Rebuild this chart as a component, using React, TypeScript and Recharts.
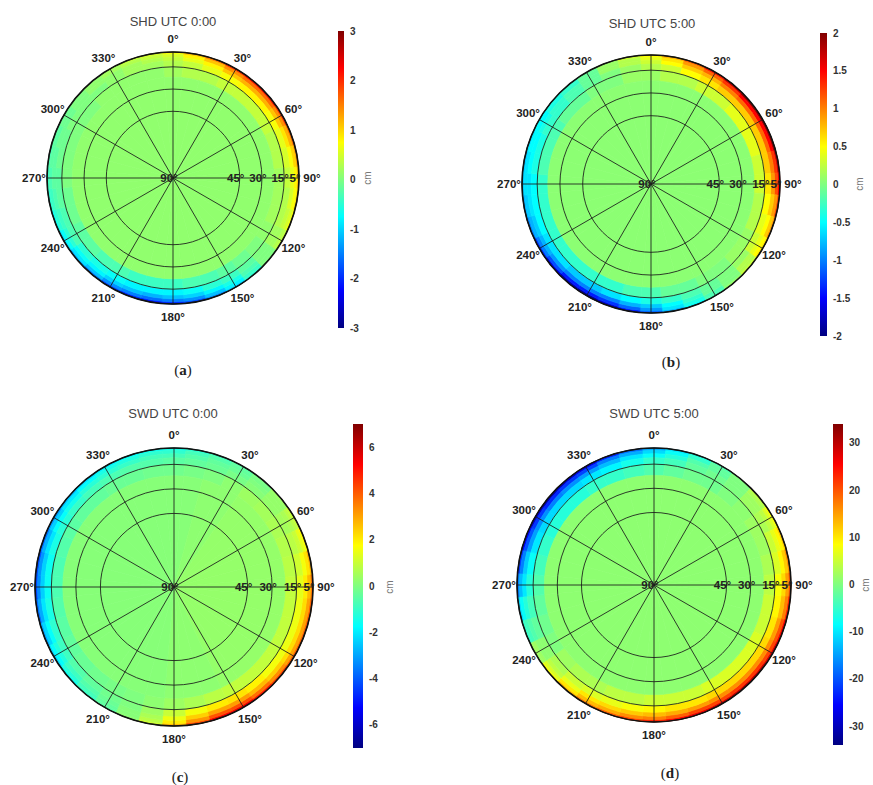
import {
  Bar,
  BarChart,
  Cell,
  Pie,
  PieChart,
  PolarAngleAxis,
  PolarGrid,
  PolarRadiusAxis,
  RadarChart,
  XAxis,
  YAxis,
} from "recharts";

// azimuth bins (10° wide, centred on the value), clockwise from north
const AZIMUTHS = [
  0, 10, 20, 30, 40, 50, 60, 70, 80, 90, 100, 110, 120, 130, 140, 150, 160, 170,
  180, 190, 200, 210, 220, 230, 240, 250, 260, 270, 280, 290, 300, 310, 320, 330, 340, 350,
];
// elevation ring edges, from the 5° cut-off inwards to the zenith
const ELEVATION_EDGES = [5, 6.5, 8.5, 11, 15, 22, 90];
const ANGLE_LABELS = ["0°", "30°", "60°", "90°", "120°", "150°", "180°", "210°", "240°", "270°", "300°", "330°"];
// zenith distance of the grid circles (90° - elevation): 90°, 45°, 30°, 15°, 5°
const ZENITH_TICKS = [0, 45, 60, 75, 85];

// one row per elevation ring (5-6.5°, 6.5-8.5°, 8.5-11°, 11-15°, 15-22°, 22-90°), values in cm
const SHD_0_RINGS = [
  [0.7, 1.1, 1.5, 1.9, 2.1, 2.1, 1.9, 1.6, 1.3, 1.1, 0.9, 0.7, 0.4, 0.0, -0.5, -1.0, -1.4, -1.8, -2.0, -2.1, -2.0, -1.8, -1.5, -1.2, -0.9, -0.7, -0.5, -0.4, -0.3, -0.2, -0.1, 0.0, 0.1, 0.2, 0.4, 0.5],
  [0.5, 0.8, 1.1, 1.4, 1.6, 1.6, 1.4, 1.2, 1.0, 0.8, 0.7, 0.5, 0.3, 0.0, -0.4, -0.8, -1.1, -1.4, -1.5, -1.6, -1.5, -1.4, -1.1, -0.9, -0.7, -0.5, -0.4, -0.3, -0.2, -0.2, -0.1, 0.0, 0.1, 0.2, 0.3, 0.4],
  [0.4, 0.6, 0.8, 1.1, 1.2, 1.2, 1.1, 0.9, 0.7, 0.6, 0.5, 0.4, 0.2, 0.0, -0.3, -0.6, -0.8, -1.0, -1.1, -1.2, -1.1, -1.0, -0.8, -0.7, -0.5, -0.4, -0.3, -0.2, -0.2, -0.1, -0.1, 0.0, 0.1, 0.1, 0.2, 0.3],
  [0.3, 0.4, 0.6, 0.7, 0.8, 0.8, 0.7, 0.6, 0.5, 0.4, 0.3, 0.3, 0.2, 0.0, -0.2, -0.4, -0.5, -0.7, -0.8, -0.8, -0.8, -0.7, -0.6, -0.5, -0.3, -0.3, -0.2, -0.2, -0.1, -0.1, 0.0, 0.0, 0.0, 0.1, 0.2, 0.2],
  [0.2, 0.3, 0.3, 0.4, 0.4, 0.4, 0.4, 0.3, 0.3, 0.2, 0.2, 0.2, 0.1, 0.0, -0.1, -0.2, -0.3, -0.3, -0.4, -0.4, -0.4, -0.3, -0.3, -0.2, -0.2, -0.1, -0.1, 0.0, 0.0, 0.0, 0.0, 0.0, 0.1, 0.1, 0.1, 0.1],
  [0.1, 0.1, 0.1, 0.1, 0.1, 0.1, 0.1, 0.1, 0.1, 0.1, 0.1, 0.1, 0.1, 0.1, 0.1, 0.1, 0.1, 0.1, 0.1, 0.1, 0.1, 0.1, 0.1, 0.1, 0.1, 0.1, 0.1, 0.1, 0.1, 0.1, 0.1, 0.1, 0.1, 0.1, 0.1, 0.1],
];
const SHD_5_RINGS = [
  [0.5, 0.8, 1.1, 1.4, 1.7, 1.9, 1.9, 1.9, 1.7, 1.5, 1.2, 0.9, 0.6, 0.3, 0.1, -0.2, -0.5, -0.8, -1.1, -1.4, -1.7, -1.9, -1.8, -1.6, -1.3, -1.0, -0.8, -0.7, -0.7, -0.6, -0.5, -0.4, -0.3, -0.1, 0.1, 0.3],
  [0.4, 0.6, 0.9, 1.1, 1.3, 1.5, 1.5, 1.5, 1.3, 1.2, 0.9, 0.7, 0.5, 0.2, 0.0, -0.2, -0.4, -0.6, -0.9, -1.1, -1.3, -1.4, -1.4, -1.2, -1.0, -0.8, -0.7, -0.6, -0.6, -0.5, -0.5, -0.4, -0.3, -0.1, 0.1, 0.2],
  [0.3, 0.5, 0.7, 0.8, 1.0, 1.1, 1.1, 1.1, 1.0, 0.9, 0.7, 0.5, 0.4, 0.2, 0.0, -0.1, -0.3, -0.5, -0.7, -0.8, -1.0, -1.0, -1.0, -0.9, -0.8, -0.7, -0.6, -0.6, -0.5, -0.5, -0.4, -0.3, -0.2, -0.1, 0.1, 0.2],
  [0.2, 0.3, 0.5, 0.6, 0.7, 0.7, 0.7, 0.7, 0.7, 0.6, 0.5, 0.4, 0.3, 0.1, 0.0, -0.1, -0.2, -0.3, -0.4, -0.5, -0.6, -0.7, -0.7, -0.6, -0.6, -0.5, -0.5, -0.5, -0.4, -0.4, -0.3, -0.3, -0.2, -0.1, 0.0, 0.1],
  [0.1, 0.2, 0.2, 0.3, 0.3, 0.4, 0.4, 0.4, 0.3, 0.3, 0.2, 0.2, 0.1, 0.1, 0.0, 0.0, -0.1, -0.1, -0.2, -0.2, -0.3, -0.3, -0.3, -0.3, -0.3, -0.3, -0.3, -0.3, -0.2, -0.2, -0.2, -0.1, -0.1, 0.0, 0.0, 0.1],
  [0.05, 0.05, 0.05, 0.05, 0.05, 0.05, 0.05, 0.05, 0.05, 0.05, 0.05, 0.05, 0.05, 0.05, 0.05, 0.05, 0.05, 0.05, 0.05, 0.05, 0.05, 0.05, 0.05, 0.05, 0.05, 0.05, 0.05, 0.05, 0.05, 0.05, 0.05, 0.05, 0.05, 0.05, 0.05, 0.05],
];
const SWD_0_RINGS = [
  [-1.4, -1.1, -0.8, -0.5, -0.1, 0.4, 1.0, 1.8, 2.8, 3.6, 3.9, 3.9, 3.9, 4.3, 4.9, 5.5, 5.4, 4.2, 2.7, 1.1, 0.2, -0.5, -1.0, -1.6, -2.3, -3.0, -3.8, -4.3, -4.2, -3.7, -3.1, -2.6, -2.2, -1.9, -1.7, -1.5],
  [-1.1, -0.8, -0.6, -0.4, -0.1, 0.3, 0.8, 1.4, 2.1, 2.7, 3.0, 3.0, 3.0, 3.3, 3.7, 4.2, 4.1, 3.2, 2.0, 0.8, 0.1, -0.4, -0.8, -1.2, -1.7, -2.3, -2.9, -3.3, -3.2, -2.8, -2.4, -2.0, -1.7, -1.4, -1.3, -1.1],
  [-0.8, -0.6, -0.4, -0.3, 0.0, 0.3, 0.6, 1.0, 1.6, 2.0, 2.2, 2.2, 2.2, 2.4, 2.7, 3.1, 3.0, 2.4, 1.5, 0.6, 0.1, -0.3, -0.6, -0.9, -1.3, -1.7, -2.1, -2.4, -2.4, -2.1, -1.7, -1.5, -1.2, -1.1, -1.0, -0.8],
  [-0.5, -0.4, -0.3, -0.1, 0.1, 0.3, 0.5, 0.8, 1.1, 1.4, 1.5, 1.5, 1.5, 1.6, 1.9, 2.1, 2.0, 1.6, 1.0, 0.4, 0.0, -0.2, -0.4, -0.6, -0.9, -1.1, -1.4, -1.6, -1.6, -1.4, -1.2, -1.0, -0.8, -0.7, -0.6, -0.6],
  [-0.2, -0.1, 0.0, 0.2, 0.4, 0.5, 0.6, 0.7, 0.8, 0.9, 0.9, 0.9, 0.9, 0.9, 0.9, 0.9, 0.8, 0.6, 0.4, 0.2, 0.0, -0.1, -0.2, -0.3, -0.4, -0.5, -0.6, -0.7, -0.7, -0.6, -0.5, -0.4, -0.4, -0.3, -0.3, -0.2],
  [0.1, 0.1, 0.2, 0.2, 0.3, 0.3, 0.3, 0.3, 0.3, 0.3, 0.3, 0.3, 0.3, 0.3, 0.3, 0.3, 0.2, 0.2, 0.2, 0.1, 0.1, 0.1, 0.1, 0.1, 0.1, 0.1, 0.1, 0.1, 0.1, 0.1, 0.1, 0.1, 0.1, 0.1, 0.1, 0.1],
];
const SWD_5_RINGS = [
  [-14, -10, -6, -3, 0, 4, 8, 12, 16, 20, 23, 26, 28, 29, 29, 28, 27, 25, 23, 21, 19, 17, 13, 8, 2, -5, -11, -17, -22, -26, -29, -30, -29, -27, -23, -18],
  [-11, -8, -5, -2, 0, 3, 6, 9, 12, 15, 17, 20, 21, 22, 22, 21, 21, 19, 17, 16, 14, 13, 10, 6, 2, -4, -8, -13, -17, -20, -22, -23, -22, -21, -17, -14],
  [-8, -6, -3, -2, 0, 2, 4, 7, 9, 11, 13, 15, 16, 16, 16, 16, 15, 14, 13, 12, 11, 10, 7, 4, 1, -3, -6, -10, -12, -15, -16, -17, -16, -15, -13, -10],
  [-5, -4, -2, -1, 0, 2, 3, 5, 6, 8, 9, 10, 11, 11, 11, 11, 10, 10, 9, 8, 7, 6, 5, 3, 1, -2, -4, -6, -8, -10, -11, -11, -11, -10, -9, -7],
  [-3, -2, -1, -1, 0, 1, 2, 2, 3, 4, 5, 5, 6, 6, 6, 6, 5, 5, 5, 4, 4, 3, 3, 2, 0, -1, -2, -3, -4, -5, -6, -6, -6, -5, -5, -4],
  [1, 1, 1, 1, 1, 1, 1, 1, 1, 1, 1, 1, 1, 1, 1, 1, 1, 1, 1, 1, 1, 1, 1, 1, 1, 1, 1, 1, 1, 1, 1, 1, 1, 1, 1, 1],
];

const SHD_0_TICKS = [-3, -2, -1, 0, 1, 2, 3];
const SHD_5_TICKS = [-2, -1.5, -1, -0.5, 0, 0.5, 1, 1.5, 2];
const SWD_0_TICKS = [-6, -4, -2, 0, 2, 4, 6];
const SWD_5_TICKS = [-30, -20, -10, 0, 10, 20, 30];

const JET_STOPS = [0, 0.125, 0.25, 0.375, 0.5, 0.625, 0.75, 0.875, 1];
const GRID_ANGLES = [0, 30, 60, 90, 120, 150, 180, 210, 240, 270, 300, 330];

function jet(t: number) {
  const c = (v: number) => Math.round(255 * Math.min(1, Math.max(0, v)));
  return `rgb(${c(1.5 - Math.abs(4 * t - 3))},${c(1.5 - Math.abs(4 * t - 2))},${c(1.5 - Math.abs(4 * t - 1))})`;
}

const colorFor = (v: number, limit: number) => jet((v + limit) / (2 * limit));

const FONT = '"Liberation Sans", Arial, sans-serif';

type Layout = {
  cx: number;
  cy: number;
  R: number;
  bar: { x: number; y: number; w: number; h: number };
  title: { x: number; y: number };
  caption: { x: number; y: number };
  unit: { x: number; y: number };
};

const PANELS = [
  {
    id: "a",
    title: "SHD UTC 0:00",
    rings: SHD_0_RINGS,
    limit: 3,
    ticks: SHD_0_TICKS,
    layout: { cx: 173, cy: 178, R: 126, bar: { x: 338, y: 31, w: 6, h: 297 }, title: { x: 173, y: 21 }, caption: { x: 183, y: 370 }, unit: { x: 368, y: 178 } },
  },
  {
    id: "b",
    title: "SHD UTC 5:00",
    rings: SHD_5_RINGS,
    limit: 2,
    ticks: SHD_5_TICKS,
    layout: { cx: 651, cy: 184, R: 129, bar: { x: 820, y: 33, w: 7, h: 303 }, title: { x: 652, y: 23 }, caption: { x: 671, y: 362 }, unit: { x: 860, y: 184 } },
  },
  {
    id: "c",
    title: "SWD UTC 0:00",
    rings: SWD_0_RINGS,
    limit: 7,
    ticks: SWD_0_TICKS,
    layout: { cx: 174, cy: 587, R: 139, bar: { x: 353, y: 424, w: 10, h: 324 }, title: { x: 173, y: 413 }, caption: { x: 180, y: 777 }, unit: { x: 390, y: 587 } },
  },
  {
    id: "d",
    title: "SWD UTC 5:00",
    rings: SWD_5_RINGS,
    limit: 34,
    ticks: SWD_5_TICKS,
    layout: { cx: 654, cy: 585, R: 137, bar: { x: 833, y: 424, w: 10, h: 321 }, title: { x: 654, y: 413 }, caption: { x: 670, y: 773 }, unit: { x: 866, y: 585 } },
  },
];

const labelStyle = { fontFamily: FONT, fontSize: 11.5, fontWeight: "bold" as const, fill: "#222" };

function PolarMap({ rings, limit, layout }: { rings: number[][]; limit: number; layout: Layout }) {
  const { cx, cy, R } = layout;
  const H = R + 45;
  const radiusOf = (elev: number) => (R * (90 - elev)) / 85;
  const half = (AZIMUTHS[1] - AZIMUTHS[0]) / 2;
  const boxStyle = { position: "absolute" as const, left: cx - H, top: cy - H };
  const gridRadii = ZENITH_TICKS.filter((z) => z > 0).map((z) => (R * z) / 85);

  return (
    <>
      <div style={boxStyle}>
        <PieChart width={2 * H} height={2 * H} margin={{ top: 0, right: 0, bottom: 0, left: 0 }}>
          {rings.map((ring, i) => (
            <Pie
              key={i}
              data={AZIMUTHS.map((az, j) => ({ name: `${az}`, value: ring[j], size: 1 }))}
              dataKey="size"
              cx={H}
              cy={H}
              innerRadius={i === rings.length - 1 ? 0 : radiusOf(ELEVATION_EDGES[i + 1])}
              outerRadius={radiusOf(ELEVATION_EDGES[i])}
              startAngle={90 + half}
              endAngle={90 + half - 360}
              paddingAngle={0}
              isAnimationActive={false}
            >
              {ring.map((v, j) => (
                <Cell key={j} fill={colorFor(v, limit)} stroke={colorFor(v, limit)} strokeWidth={0.7} />
              ))}
            </Pie>
          ))}
        </PieChart>
      </div>
      <div style={boxStyle}>
        <RadarChart
          width={2 * H}
          height={2 * H}
          cx={H}
          cy={H}
          outerRadius={R}
          startAngle={90}
          endAngle={-270}
          margin={{ top: 0, right: 0, bottom: 0, left: 0 }}
          data={ANGLE_LABELS.map((label) => ({ label }))}
        >
          <PolarGrid
            gridType="circle"
            cx={H}
            cy={H}
            innerRadius={0}
            outerRadius={R}
            polarAngles={GRID_ANGLES}
            polarRadius={gridRadii}
            stroke="#1a1a1a"
            strokeOpacity={0.85}
            strokeWidth={1}
          />
          <PolarGrid
            gridType="circle"
            cx={H}
            cy={H}
            innerRadius={0}
            outerRadius={R}
            radialLines={false}
            polarAngles={GRID_ANGLES}
            polarRadius={[R]}
            stroke="#111"
            strokeWidth={1.6}
          />
          <PolarAngleAxis
            dataKey="label"
            axisLine={false}
            tickLine={false}
            tick={(p: any) => {
              const dx = p.x - H;
              const dy = p.y - H;
              const d = Math.hypot(dx, dy) || 1;
              return (
                <text
                  x={H + (dx / d) * (R + 13)}
                  y={H + (dy / d) * (R + 13)}
                  textAnchor="middle"
                  dominantBaseline="central"
                  {...labelStyle}
                >
                  {p.payload.value}
                </text>
              );
            }}
          />
          <PolarRadiusAxis
            type="number"
            domain={[0, 85]}
            allowDataOverflow
            ticks={ZENITH_TICKS}
            tickCount={ZENITH_TICKS.length}
            angle={0}
            axisLine={false}
            tickLine={false}
            tick={(p: any) => (
              <text x={p.x - 4} y={p.y} textAnchor="middle" dominantBaseline="central" {...labelStyle}>
                {`${90 - p.payload.value}°`}
              </text>
            )}
          />
        </RadarChart>
      </div>
    </>
  );
}

function Colorbar({ id, limit, ticks, layout }: { id: string; limit: number; ticks: number[]; layout: Layout }) {
  const pad = 10;
  const { bar } = layout;
  return (
    <div style={{ position: "absolute", left: bar.x, top: bar.y - pad }}>
      <BarChart
        width={bar.w + 34}
        height={bar.h + 2 * pad}
        data={[{ name: "cm", span: [-limit, limit] }]}
        margin={{ top: pad, bottom: pad, left: 0, right: 0 }}
        barCategoryGap={0}
      >
        <defs>
          <linearGradient id={`jet-${id}`} x1="0" y1="1" x2="0" y2="0">
            {JET_STOPS.map((t) => (
              <stop key={t} offset={t} stopColor={jet(t)} />
            ))}
          </linearGradient>
        </defs>
        <XAxis dataKey="name" hide />
        <YAxis
          orientation="right"
          type="number"
          domain={[-limit, limit]}
          ticks={ticks}
          interval={0}
          width={34}
          axisLine={false}
          tickLine={false}
          tickSize={3}
          tickMargin={3}
          tick={{ fontSize: 10, fontWeight: "bold", fill: "#333", fontFamily: FONT }}
        />
        <Bar dataKey="span" fill={`url(#jet-${id})`} isAnimationActive={false} />
      </BarChart>
    </div>
  );
}

const centered = (x: number, y: number) => ({
  position: "absolute" as const,
  left: x,
  top: y,
  transform: "translate(-50%, -50%)",
  whiteSpace: "nowrap" as const,
  lineHeight: 1,
});

export default function App() {
  return (
    <div
      style={{
        position: "absolute",
        left: 0,
        top: 0,
        width: 873,
        height: 785,
        overflow: "hidden",
        background: "#fff",
        fontFamily: FONT,
      }}
    >
      {PANELS.map((p) => (
        <div key={p.id}>
          <PolarMap rings={p.rings} limit={p.limit} layout={p.layout} />
          <Colorbar id={p.id} limit={p.limit} ticks={p.ticks} layout={p.layout} />
          <div style={{ ...centered(p.layout.title.x, p.layout.title.y), fontSize: 13, color: "#444" }}>{p.title}</div>
          <div
            style={{
              ...centered(p.layout.unit.x, p.layout.unit.y),
              transform: "translate(-50%, -50%) rotate(-90deg)",
              fontSize: 10,
              color: "#777",
            }}
          >
            cm
          </div>
          <div
            style={{
              ...centered(p.layout.caption.x, p.layout.caption.y),
              fontFamily: '"Liberation Serif", "Times New Roman", serif',
              fontSize: 15,
              color: "#222",
            }}
          >
            (<b>{p.id}</b>)
          </div>
        </div>
      ))}
    </div>
  );
}
